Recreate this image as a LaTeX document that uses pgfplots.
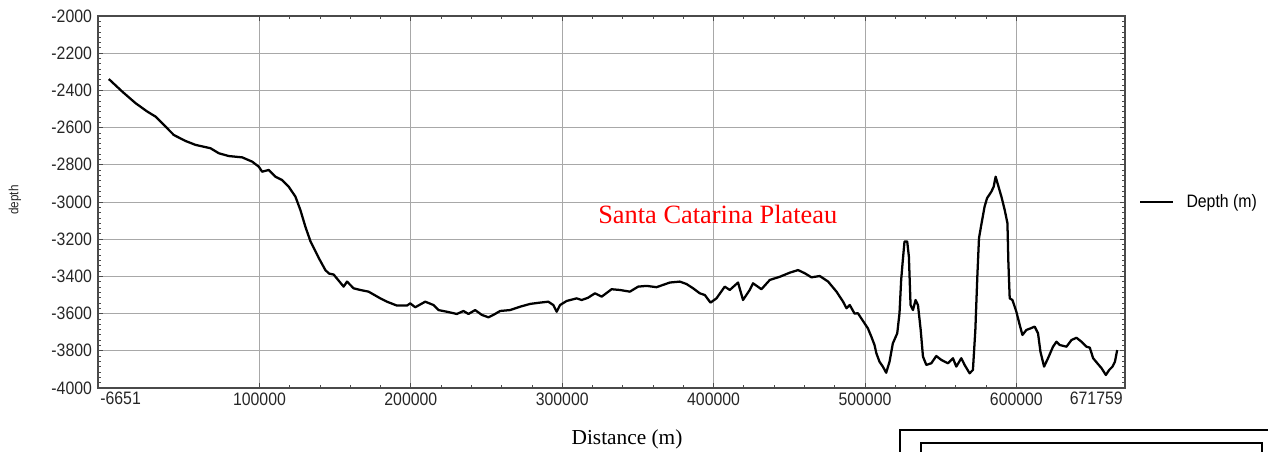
\documentclass[border=0pt]{standalone}
\usepackage{fontspec}
\setmainfont{Liberation Serif}
\newfontfamily\narrowsans[FakeStretch=0.88]{Liberation Sans}
\usepackage{pgfplots}
\pgfplotsset{compat=1.18}
\definecolor{gridgray}{HTML}{A8A8A8}
\definecolor{axisgray}{HTML}{4A4A4A}
\pgfplotstableread{
x y
500 -2339
9440 -2407
18210 -2469
25930 -2514
31400 -2541
38000 -2595
43470 -2640
51190 -2672
57790 -2693
67680 -2711
73160 -2738
79750 -2753
88590 -2760
95180 -2783
99540 -2810
101780 -2837
106130 -2828
110550 -2864
114970 -2882
119330 -2918
123750 -2971
127040 -3043
130340 -3133
133640 -3210
139110 -3300
143530 -3366
146000 -3385
149010 -3390
155600 -3455
157850 -3428
162200 -3464
166620 -3473
172090 -3482
179820 -3518
184240 -3536
190830 -3557
197430 -3557
199600 -3545
202900 -3566
209500 -3536
214980 -3554
218280 -3581
223820 -3590
230400 -3602
234760 -3586
238060 -3602
242480 -3581
246900 -3607
251250 -3620
254550 -3607
258960 -3586
265560 -3581
272150 -3563
278750 -3548
285350 -3541
290820 -3536
294120 -3554
296370 -3590
298540 -3554
302960 -3532
309550 -3518
312850 -3527
317000 -3515
321620 -3491
326040 -3509
332640 -3469
338110 -3473
344710 -3482
350180 -3455
355720 -3451
362310 -3458
371100 -3433
377690 -3428
382110 -3441
386460 -3464
390890 -3491
394180 -3500
397940 -3541
401900 -3518
407370 -3455
410670 -3473
416140 -3433
419440 -3527
423860 -3473
426040 -3437
431580 -3469
437130 -3419
443730 -3402
450320 -3380
455790 -3366
460210 -3383
464630 -3405
470160 -3398
475640 -3428
481180 -3482
485530 -3536
487780 -3571
489950 -3554
493100 -3600
495300 -3598
497500 -3625
501900 -3679
504200 -3724
506300 -3769
507500 -3813
509600 -3859
511800 -3885
514000 -3918
516200 -3859
518400 -3760
521300 -3706
522800 -3598
523900 -3419
525000 -3312
526100 -3213
527900 -3213
529000 -3294
530100 -3554
531700 -3581
533400 -3527
535000 -3554
536800 -3688
538300 -3831
540500 -3876
543800 -3867
547100 -3828
550400 -3849
554800 -3867
558100 -3840
560300 -3885
563600 -3840
565800 -3876
569100 -3921
571300 -3903
572900 -3688
574200 -3402
575300 -3195
576800 -3124
579000 -3025
580600 -2980
583500 -2944
585000 -2918
586300 -2864
587900 -2909
590100 -2971
592300 -3043
594100 -3114
594700 -3321
595600 -3518
597400 -3527
600000 -3590
602200 -3661
604000 -3715
606600 -3688
609500 -3679
612100 -3670
614300 -3706
615900 -3805
618300 -3885
620900 -3840
624200 -3778
626500 -3751
628700 -3769
633100 -3778
636400 -3742
639700 -3730
643000 -3751
646300 -3778
648500 -3783
650700 -3840
654000 -3872
656300 -3894
659100 -3930
661300 -3903
663500 -3885
665100 -3859
666600 -3796
}\depthdata
\begin{document}
\begin{tikzpicture}[x=0.75pt,y=0.75pt]
\useasboundingbox (0,0) rectangle (1268,452);
\begin{axis}[
  at={(73.5pt,48pt)}, anchor=south west,
  width=770.25pt, height=279pt, scale only axis,
  xmin=-6651, xmax=671759, ymin=-4000, ymax=-2000,
  scaled x ticks=false, scaled y ticks=false,
  xtick={100000,200000,300000,400000,500000,600000},
  xticklabels={100000,200000,300000,400000,500000,600000},
  ytick={-4000,-3800,-3600,-3400,-3200,-3000,-2800,-2600,-2400,-2200,-2000},
  yticklabels={-4000,-3800,-3600,-3400,-3200,-3000,-2800,-2600,-2400,-2200,-2000},
  minor x tick num=4, minor y tick num=6,
  tick align=inside,
  major tick length=4pt, minor tick length=2.3pt,
  tick style={axisgray, line width=0.6pt},
  grid=major,
  major grid style={gridgray, line width=0.7pt},
  axis line style={axisgray, line width=1.2pt},
  ticklabel style={font=\narrowsans\fontsize{13.5}{15}\selectfont, text=black!85},
  yticklabel style={xshift=-1pt},
  xticklabel style={yshift=-0.5pt},
  legend style={draw=none, fill=none, at={(1.0136,0.5)}, anchor=west, inner sep=0pt,
    font=\narrowsans\fontsize{13.5}{15}\selectfont, legend cell align=left,
    /tikz/every odd column/.append style={column sep=7pt}},
  legend image code/.code={\draw[#1] (0pt,0pt) -- (24.75pt,0pt);},
  clip=false,
]
\addplot[black, line width=1.7pt, line join=round] table[x=x,y=y] {\depthdata};
\addlegendentry{Depth (m)}
\node[anchor=base, text=red, font=\fontsize{19.8}{22}\selectfont] at (axis cs:402760,-3118) {Santa Catarina Plateau};
\node[anchor=north west, inner sep=0pt, font=\narrowsans\fontsize{13.5}{15}\selectfont, text=black!85] at ([yshift=-3pt]rel axis cs:0.002,0) {-6651};
\node[anchor=north east, inner sep=0pt, font=\narrowsans\fontsize{13.5}{15}\selectfont, text=black!85] at ([yshift=-3pt]rel axis cs:0.998,0) {671759};
\end{axis}
\node[anchor=base, font=\fontsize{16}{18}\selectfont] at (627,7) {Distance (m)};
\node[rotate=90, font=\narrowsans\fontsize{10}{12}\selectfont, text=black!85] at (15,252) {depth};
\draw[line width=1.4pt] (900,0) -- (900,22) -- (1268,22);
\draw[line width=1.4pt] (921,0) -- (921,9) -- (1262,9) -- (1262,0);
\end{tikzpicture}
\end{document}
